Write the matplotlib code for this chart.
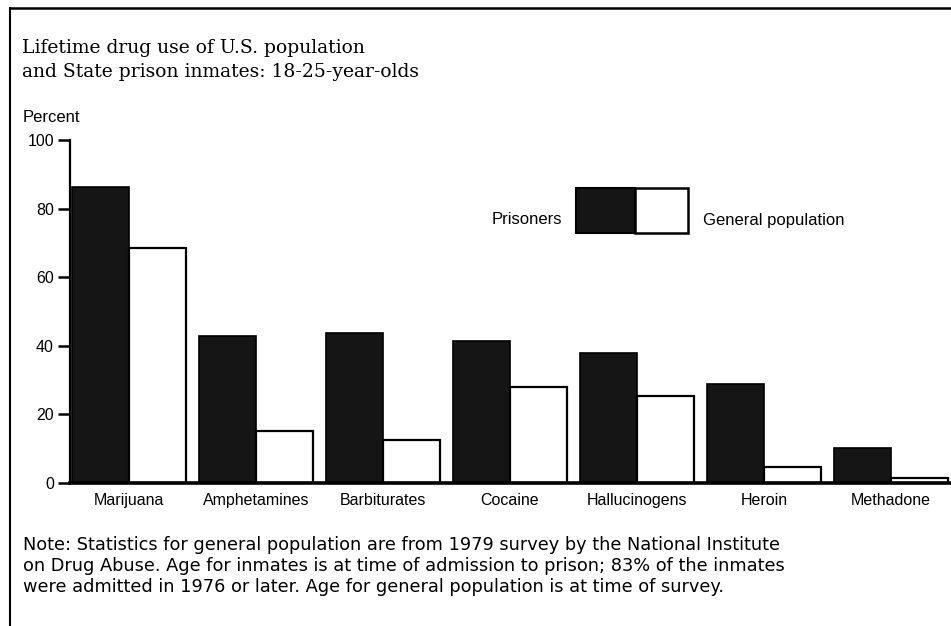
import matplotlib
matplotlib.use("Agg")
import matplotlib.pyplot as plt
from matplotlib.patches import Rectangle
from matplotlib.lines import Line2D
import numpy as np

plt.rcParams['font.family'] = ['Liberation Sans', 'DejaVu Sans']

categories = ["Marijuana", "Amphetamines", "Barbiturates", "Cocaine",
              "Hallucinogens", "Heroin", "Methadone"]
prisoners = [86.3, 42.9, 43.7, 41.5, 38.0, 28.8, 10.3]
general = [68.5, 15.2, 12.6, 28.1, 25.4, 4.8, 1.4]
yticks = [0, 20, 40, 60, 80, 100]
series_names = ["Prisoners", "General population"]
title_lines = ["Lifetime drug use of U.S. population",
               "and State prison inmates: 18-25-year-olds"]
note_lines = ["Note: Statistics for general population are from 1979 survey by the National Institute",
              "on Drug Abuse. Age for inmates is at time of admission to prison; 83% of the inmates",
              "were admitted in 1976 or later. Age for general population is at time of survey."]

W, H = 951, 626
DARK = '#151515'
fig = plt.figure(figsize=(W / 100, H / 100), dpi=100)
fig.patch.set_facecolor('white')

ax = fig.add_axes([70 / W, 1 - 483 / H, (951 - 70) / W, (483 - 140) / H])
x = np.arange(len(categories))
bw = 0.45
ax.bar(x - bw, prisoners, width=bw, align='edge', color=DARK,
       edgecolor='black', linewidth=1.2, zorder=2)
ax.bar(x, general, width=bw, align='edge', color='white',
       edgecolor='black', linewidth=1.6, zorder=2)
ax.set_xlim(-0.465, 6.472)
ax.set_ylim(0, 100)
ax.set_yticks(yticks)
ax.set_xticks(x)
ax.set_xticklabels(categories)
for s in ['top', 'right']:
    ax.spines[s].set_visible(False)
ax.spines['left'].set_linewidth(1.6)
ax.spines['bottom'].set_linewidth(2.6)
ax.tick_params(axis='y', length=8.6, width=1.8, pad=3, labelsize=11.5)
ax.tick_params(axis='x', length=0, pad=7, labelsize=11.5)

# title
for ln, yy in zip(title_lines, [48, 72]):
    fig.text(22 / W, 1 - yy / H, ln, family=['DejaVu Serif'],
             fontsize=13.5, va='center', ha='left')
fig.text(23 / W, 1 - 117 / H, "Percent", fontsize=12, va='center', ha='left')

# legend
fig.patches.append(Rectangle((576 / W, 1 - 233 / H), 59 / W, 45 / H, transform=fig.transFigure,
                             facecolor=DARK, edgecolor='black', linewidth=1.5))
fig.patches.append(Rectangle((635 / W, 1 - 233 / H), 53 / W, 45 / H, transform=fig.transFigure,
                             facecolor='white', edgecolor='black', linewidth=1.8))
fig.text(562 / W, 1 - 220 / H, series_names[0], fontsize=12, va='center', ha='right')
fig.text(703 / W, 1 - 220 / H, series_names[1], fontsize=12, va='center', ha='left')

# note
for ln, yy in zip(note_lines, [545, 566, 587]):
    fig.text(23 / W, 1 - yy / H, ln, family=['DejaVu Sans'], fontsize=12.8,
             va='center', ha='left')

# frame lines
fig.add_artist(Line2D([10 / W, 10 / W], [0, 1 - 8 / H], transform=fig.transFigure,
                      color='black', linewidth=1.5))
fig.add_artist(Line2D([10 / W, 1], [1 - 8 / H, 1 - 8 / H], transform=fig.transFigure,
                      color='black', linewidth=1.8))

fig.savefig("out.png", dpi=100)
